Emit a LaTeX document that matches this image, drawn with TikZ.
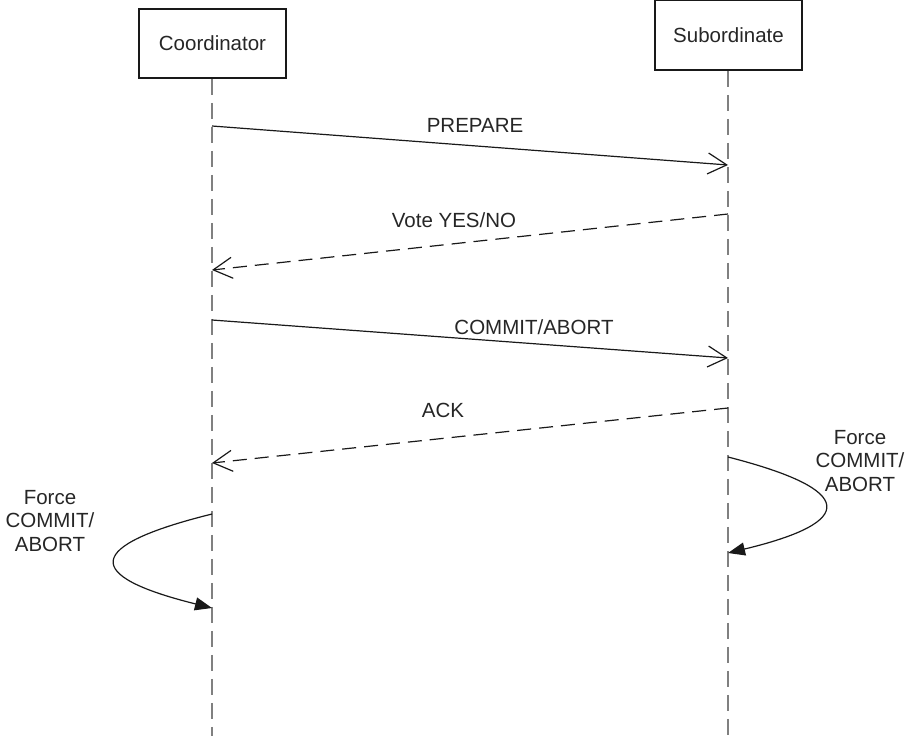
\documentclass[tikz,border=0pt]{standalone}
\usepackage{fontspec}
\setmainfont{Liberation Sans}
\usetikzlibrary{arrows.meta}
\begin{document}
\begin{tikzpicture}[x=1pt,y=-1pt,
  every node/.style={font=\fontsize{20.5}{23.5}\selectfont, text=black!85},
  actor/.style={draw=black!90, line width=1.5pt, minimum width=147pt, inner sep=0pt},
  lifeline/.style={draw=black!50, line width=2pt, dash pattern=on 16pt off 8pt},
  msg/.style={draw=black!90, line width=1.2pt, -{Straight Barb[length=19pt,width=21pt,line width=1.2pt]}},
  reply/.style={msg, dash pattern=on 14pt off 8pt},
  selfmsg/.style={draw=black!90, line width=1.2pt, -{Triangle[length=17pt,width=13pt]}},
  lbl/.style={inner sep=0pt},
  note/.style={inner sep=0pt, align=center}]
\useasboundingbox (0,0) rectangle (909,736);

% participants
\node[actor, minimum height=69pt] (coord) at (212.5,43.5) {Coordinator};
\node[actor, minimum height=70pt] (sub) at (728.5,35) {Subordinate};

% lifelines
\coordinate (coordEnd) at (212,736);
\coordinate (subEnd) at (728,736);
\draw[lifeline] (coord.south -| coordEnd) -- (coordEnd);
\draw[lifeline] (sub.south -| subEnd) -- (subEnd);

% message anchor points on the lifelines
\coordinate (c1) at (212,126);  \coordinate (s1) at (728,165);
\coordinate (s2) at (728,214);  \coordinate (c2) at (212,270);
\coordinate (c3) at (212,320);  \coordinate (s3) at (728,358);
\coordinate (s4) at (728,408);  \coordinate (c4) at (212,463);
\coordinate (s5) at (728,457);  \coordinate (s6) at (728,553);
\coordinate (c5) at (212,514);  \coordinate (c6) at (212,608);

% messages
\draw[msg] (c1) -- (s1);
\node[lbl] (prepare) at (475,125) {PREPARE};
\draw[reply] (s2) -- (c2);
\node[lbl] (vote) at (454,220) {Vote YES/NO};
\draw[msg] (c3) -- (s3);
\node[lbl] (commit) at (534,327) {COMMIT/ABORT};
\draw[reply] (s4) -- (c4);
\node[lbl] (ack) at (443,410) {ACK};

% forced log writes
\draw[selfmsg] (s5) .. controls (857,490) and (857,522) .. (s6);
\node[note] (subforce) at (860,461) {Force\\COMMIT/\\ABORT};
\draw[selfmsg] (c5) .. controls (83,546) and (83,576) .. (c6);
\node[note] (coordforce) at (50,521) {Force\\COMMIT/\\ABORT};
\end{tikzpicture}
\end{document}
